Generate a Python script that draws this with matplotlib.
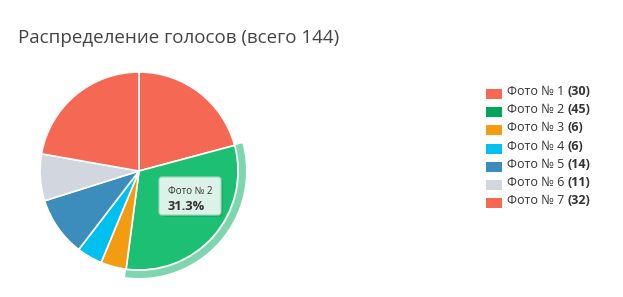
import matplotlib
matplotlib.use("Agg")
import matplotlib.pyplot as plt
from matplotlib.patches import Wedge, Rectangle, FancyBboxPatch
from decimal import Decimal, ROUND_HALF_UP

plt.rcParams['font.family'] = ['Open Sans', 'DejaVu Sans']

title = "Распределение голосов (всего 144)"
categories = ["Фото № 1", "Фото № 2", "Фото № 3", "Фото № 4", "Фото № 5", "Фото № 6", "Фото № 7"]
votes = [30, 45, 6, 6, 14, 11, 32]
colors = ["#f56954", "#00a65a", "#f39c12", "#00c0ef", "#3c8dbc", "#d2d6de", "#f56954"]
highlight_index = 1
highlight_color = "#1dbf73"
halo_color = "#7fd6ae"

W, H = 623, 297
fig = plt.figure(figsize=(W / 100, H / 100), dpi=100)
ax = fig.add_axes([0, 0, 1, 1])

def Y(y):
    return H - y

cx, cy, R = 139, Y(171), 99
pie_colors = list(colors)
pie_colors[highlight_index] = highlight_color
wedges, _ = ax.pie(votes, colors=pie_colors, startangle=90, counterclock=False,
                   center=(cx, cy), radius=R,
                   wedgeprops=dict(edgecolor="white", linewidth=1.2))

# halo around highlighted slice
hw = wedges[highlight_index]
ax.add_patch(Wedge((cx, cy), R + 8, hw.theta1, hw.theta2, width=7,
                   facecolor=halo_color, edgecolor="none"))

ax.set_xlim(0, W)
ax.set_ylim(0, H)
ax.set_aspect("equal")
ax.axis("off")

# title
ax.text(18, Y(38), title, fontsize=13.5, color="#444444", ha="left", va="center")

# tooltip
total = sum(votes)
pct = Decimal(votes[highlight_index] * 100) / Decimal(total)
pct_str = str(pct.quantize(Decimal("0.1"), rounding=ROUND_HALF_UP)) + "%"
ax.add_patch(FancyBboxPatch((162, Y(217)), 61, 38, boxstyle="round,pad=0,rounding_size=3",
                            facecolor="#0a3d20", edgecolor="none", alpha=0.15,
                            zorder=4))
ax.add_patch(FancyBboxPatch((159, Y(215)), 62, 38, boxstyle="round,pad=0,rounding_size=3",
                            facecolor="#dcf1e7", edgecolor="#9fd9bd", linewidth=0.8,
                            zorder=5))
ax.text(168, Y(192), categories[highlight_index], fontsize=7, color="#333333",
        ha="left", va="center", zorder=6)
ax.text(168, Y(206), pct_str, fontsize=9.3, fontweight="bold", color="#333333",
        ha="left", va="center", zorder=6)

# legend
fig.canvas.draw()
renderer = fig.canvas.get_renderer()
y0, dy = 91.5, 18.2
for i, (cat, v, c) in enumerate(zip(categories, votes, colors)):
    yy = y0 + i * dy
    ax.add_patch(Rectangle((486, Y(yy + 2.5) - 5), 16, 10, facecolor=c, edgecolor="none"))
    t = ax.text(507, Y(yy), cat + " ", fontsize=9, color="#333333", ha="left", va="center")
    bb = t.get_window_extent(renderer=renderer)
    ax.text(bb.x1, Y(yy), f"({v})", fontsize=9, fontweight="bold", color="#333333",
            ha="left", va="center")

fig.savefig("out.png", dpi=100)
